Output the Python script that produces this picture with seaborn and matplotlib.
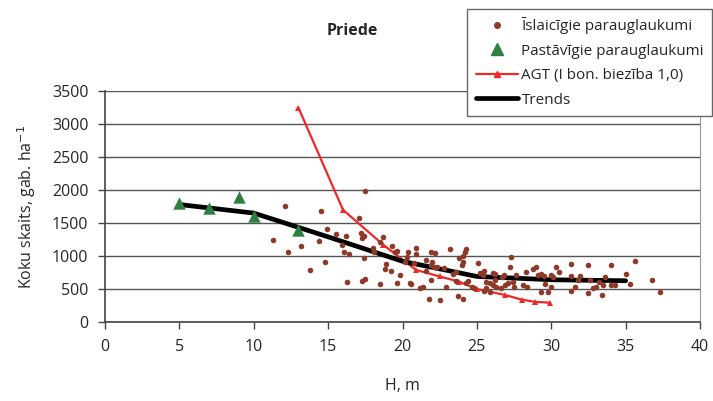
import numpy as np
import pandas as pd
import matplotlib
matplotlib.use("Agg")
import matplotlib.pyplot as plt
import seaborn as sns
from matplotlib.lines import Line2D

# Īslaicīgie parauglaukumi (temporary plots)
h_short = [12.1, 14.5, 11.3, 12.3, 13.2, 14.9, 15.5, 14.4, 15.95, 14.8, 13.8,
           17.45, 17.05, 16.2, 17.2, 17.4, 17.3, 16.1, 16.4, 17.4, 18.0, 18.1, 18.5, 18.7,
           19.3, 19.5, 19.6, 18.9, 18.8, 19.2, 19.8, 19.6, 18.5, 17.3, 17.45, 16.3,
           20.4, 20.3, 20.2, 20.5,
           20.9, 20.9, 20.8, 21.9, 22.2, 21.6, 22.0, 21.9, 22.1, 22.3, 21.6, 22.8, 23.2,
           23.8, 24.2, 24.3, 24.1, 23.6, 23.4, 24.0, 21.9, 20.6, 21.2, 21.4, 22.9, 21.8,
           22.5, 23.7, 24.1, 24.3, 23.6, 24.1, 24.4, 24.7, 25.2,
           27.3, 25.05, 25.45, 25.4, 26.1, 26.2, 26.7, 26.8, 27.2, 27.6, 28.3, 28.8, 29.1,
           25.6, 25.9, 26.1, 26.2, 26.3, 26.6, 26.9, 27.1, 27.4, 27.5, 25.6, 25.45, 24.8,
           28.1, 28.4, 25.9,
           31.3, 32.5, 30.3, 30.55, 29.0, 29.3, 29.5, 30.0, 30.1, 29.6, 29.3, 29.8, 30.0,
           31.3, 31.9, 31.8, 31.6, 31.3, 32.6, 33.2, 32.8, 33.0, 32.5, 33.4,
           34.0, 35.6, 33.6, 35.0, 33.5, 34.0, 34.3, 35.3, 36.75, 37.3]
n_short = [1760, 1680, 1250, 1065, 1150, 1415, 1335, 1225, 1165, 905, 785,
           1985, 1580, 1305, 1345, 1305, 1270, 1065, 1030, 965, 1115, 1065, 1205, 1290,
           1150, 1065, 1080, 880, 800, 775, 710, 595, 570, 625, 655, 610,
           1065, 980, 915, 585,
           1125, 1030, 900, 1065, 1050, 940, 915, 865, 830, 830, 775, 815, 1100,
           975, 1065, 1100, 1000, 760, 725, 865, 635, 570, 510, 535, 525, 350,
           330, 390, 350, 585, 625, 915, 620, 535, 735,
           990, 890, 775, 710, 735, 720, 675, 710, 840, 710, 760, 800, 710,
           610, 585, 560, 635, 535, 510, 560, 585, 610, 535, 510, 475, 510,
           560, 535, 460,
           880, 865, 840, 760, 840, 725, 695, 710, 675, 575, 460, 460, 535,
           695, 695, 635, 535, 475, 635, 610, 510, 535, 435, 410,
           865, 925, 675, 720, 560, 560, 560, 575, 635, 450]

# Pastāvīgie parauglaukumi (permanent plots)
h_perm = [5, 7, 9, 10, 13]
n_perm = [1800, 1720, 1900, 1610, 1400]

# AGT (I bon. biezība 1,0)
h_agt = [13, 16, 18.7, 20.9, 22.5, 23.8, 25.0, 26.9, 28.0, 28.9, 29.9]
n_agt = [3250, 1700, 1170, 790, 690, 611, 500, 409, 340, 305, 293]

# Trends
h_trend = [5, 10, 15, 20, 25, 30, 35]
n_trend = [1780, 1650, 1290, 920, 690, 640, 625]

brown = "#8E3A2B"
green = "#2E8040"
red = "#F02828"

sns.set_style("white")
plt.rcParams['font.family'] = ['Open Sans', 'DejaVu Sans']

fig = plt.figure(figsize=(7.13, 4.01), dpi=100)
ax = fig.add_axes([105 / 713, 1 - 322 / 401, 595 / 713, 231 / 401])

df_short = pd.DataFrame({"H": h_short, "N": n_short})
df_perm = pd.DataFrame({"H": h_perm, "N": n_perm})
df_agt = pd.DataFrame({"H": h_agt, "N": n_agt})
df_trend = pd.DataFrame({"H": h_trend, "N": n_trend})

sns.lineplot(data=df_agt, x="H", y="N", ax=ax, color=red, linewidth=1.6,
             marker="^", markersize=5, markeredgewidth=0, zorder=3)
sns.lineplot(data=df_trend, x="H", y="N", ax=ax, color="black", linewidth=3.4, zorder=4)
sns.scatterplot(data=df_short, x="H", y="N", ax=ax, color=brown, s=16,
                linewidth=0, zorder=5)
sns.scatterplot(data=df_perm, x="H", y="N", ax=ax, color=green, marker="^", s=80,
                linewidth=0, zorder=6)

ax.set_xlim(0, 40)
ax.set_ylim(0, 3500)
ax.set_xticks(np.arange(0, 41, 5))
ax.set_yticks(np.arange(0, 3501, 500))
ax.yaxis.grid(True, color="#555555", linewidth=1.0)
ax.set_axisbelow(True)

for side in ["left", "bottom"]:
    ax.spines[side].set_color("#444444")
    ax.spines[side].set_linewidth(1.2)
ax.spines["right"].set_color("#999999")
ax.spines["top"].set_visible(False)
ax.tick_params(axis="both", direction="out", length=5, width=1, color="#444444",
               labelsize=11.5, pad=7, left=True, bottom=True)

ax.set_xlabel("H, m", fontsize=11.5, labelpad=17)
ax.set_ylabel("Koku skaits, gab. ha$^{-1}$", fontsize=11.5, labelpad=10)
fig.text(352 / 713, 1 - 31 / 401, "Priede", fontsize=11.5, fontweight="bold",
         ha="center", va="center")

handles = [
    Line2D([], [], linestyle="none", marker="o", markersize=4, color=brown),
    Line2D([], [], linestyle="none", marker="^", markersize=8, color=green),
    Line2D([], [], color=red, linewidth=1.6, marker="^", markersize=5),
    Line2D([], [], color="black", linewidth=3.4),
]
labels = ["Īslaicīgie parauglaukumi", "Pastāvīgie parauglaukumi",
          "AGT (I bon. biezība 1,0)", "Trends"]
leg = fig.legend(handles, labels, loc="upper right", bbox_to_anchor=(0.999, 0.978),
                 fontsize=11, frameon=True, fancybox=False, framealpha=1,
                 edgecolor="#666666", handlelength=2.8, handletextpad=0.2,
                 labelspacing=0.62, borderpad=0.55, borderaxespad=0)
leg.get_frame().set_linewidth(1.0)

fig.savefig("out.png", dpi=100)
